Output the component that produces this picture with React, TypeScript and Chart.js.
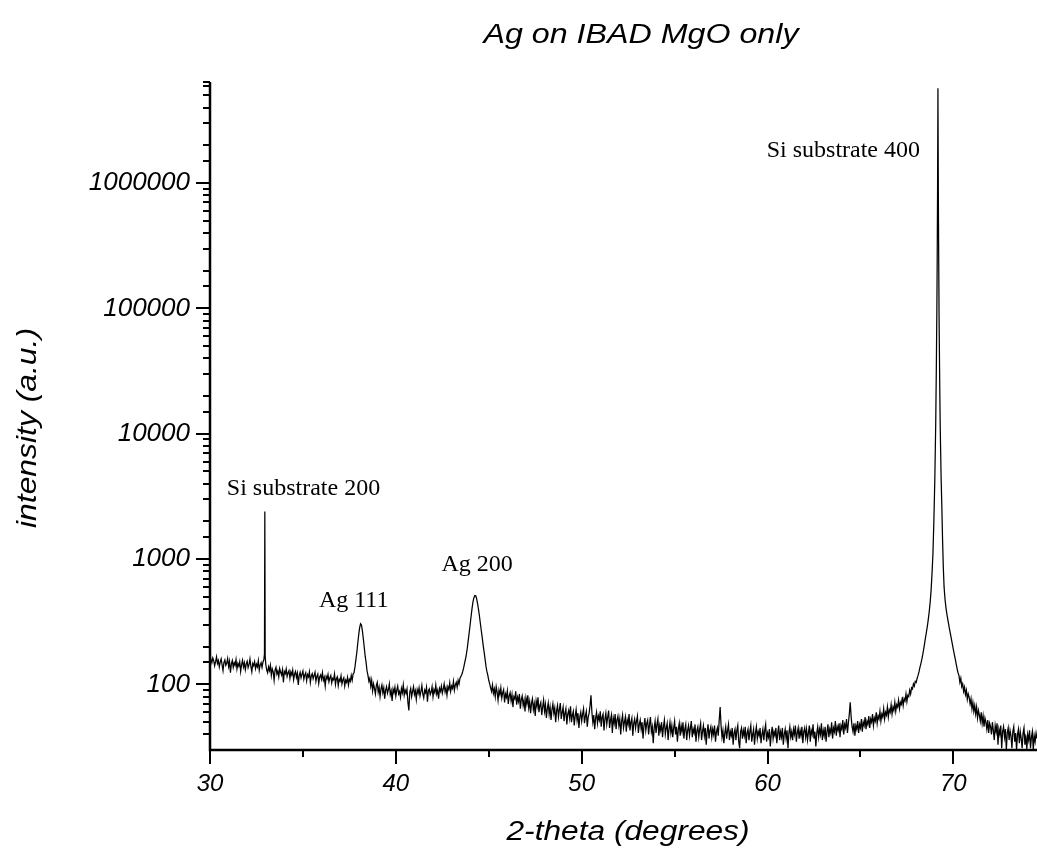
import React, { useEffect, useRef } from "react";
import { Chart, registerables } from "chart.js";

Chart.register(...registerables);

const chartTitle = "Ag on IBAD MgO only";
const xAxisTitle = "2-theta (degrees)";
const yAxisTitle = "intensity (a.u.)";

const xMin = 30;
const xMax = 74.5;
const yMin = 30;
const yMax = 6.4e6;
const xTickValues = [30, 35, 40, 45, 50, 55, 60, 65, 70];
const xLabelledTicks = [30, 40, 50, 60, 70];
const yLabelledTicks = [100, 1000, 10000, 100000, 1000000];

// [2-theta (deg), intensity (counts)]
const xrdScan: [number, number][] = [
  [30.00, 170], [30.05, 158], [30.10, 149], [30.15, 163], [30.20, 155], [30.25, 141], [30.30, 152], [30.35, 166], [30.40, 147], [30.45, 155],
  [30.50, 138], [30.55, 151], [30.60, 160], [30.65, 144], [30.70, 129], [30.75, 150], [30.80, 157], [30.85, 142], [30.90, 148], [30.95, 161],
  [31.00, 139], [31.05, 153], [31.10, 124], [31.15, 146], [31.20, 155], [31.25, 137], [31.30, 149], [31.35, 142], [31.40, 158], [31.45, 133],
  [31.50, 147], [31.55, 140], [31.60, 152], [31.65, 127], [31.70, 144], [31.75, 156], [31.80, 138], [31.85, 149], [31.90, 131], [31.95, 146],
  [32.00, 153], [32.05, 136], [32.10, 144], [32.15, 160], [32.20, 139], [32.25, 126], [32.30, 147], [32.35, 141], [32.40, 152], [32.45, 134],
  [32.50, 145], [32.55, 138], [32.60, 155], [32.65, 130], [32.70, 143], [32.75, 149], [32.80, 137], [32.85, 151], [32.90, 158],
  [32.93, 175], [32.95, 2400], [32.97, 168],
  [33.00, 145], [33.05, 131], [33.10, 124], [33.15, 138], [33.20, 129], [33.25, 142], [33.30, 118], [33.35, 133], [33.40, 126], [33.45, 108],
  [33.50, 130], [33.55, 137], [33.60, 121], [33.65, 128], [33.70, 115], [33.75, 134], [33.80, 125], [33.85, 119], [33.90, 131], [33.95, 104],
  [34.00, 127], [34.05, 122], [34.10, 133], [34.15, 116], [34.20, 124], [34.25, 129], [34.30, 112], [34.35, 126], [34.40, 119], [34.45, 130],
  [34.50, 109], [34.55, 121], [34.60, 127], [34.65, 114], [34.70, 123], [34.75, 99], [34.80, 118], [34.85, 125], [34.90, 113], [34.95, 121],
  [35.00, 128], [35.05, 110], [35.10, 119], [35.15, 124], [35.20, 107], [35.25, 120], [35.30, 115], [35.35, 126], [35.40, 104], [35.45, 117],
  [35.50, 122], [35.55, 111], [35.60, 118], [35.65, 125], [35.70, 106], [35.75, 116], [35.80, 121], [35.85, 102], [35.90, 115], [35.95, 119],
  [36.00, 110], [36.05, 124], [36.10, 108], [36.15, 114], [36.20, 97], [36.25, 116], [36.30, 111], [36.35, 120], [36.40, 105], [36.45, 113],
  [36.50, 118], [36.55, 103], [36.60, 112], [36.65, 109], [36.70, 121], [36.75, 100], [36.80, 111], [36.85, 115], [36.90, 98], [36.95, 110],
  [37.00, 106], [37.05, 117], [37.10, 101], [37.15, 109], [37.20, 113], [37.25, 97], [37.30, 108], [37.35, 104], [37.40, 114], [37.45, 99],
  [37.50, 110], [37.55, 106], [37.60, 118], [37.65, 108], [37.70, 121], [37.75, 124],
  [37.80, 138], [37.85, 158], [37.90, 180], [37.95, 212], [38.00, 248], [38.05, 283], [38.10, 305], [38.15, 298], [38.20, 268], [38.25, 232],
  [38.30, 198], [38.35, 168], [38.40, 150], [38.45, 128], [38.50, 118], [38.55, 106], [38.60, 112],
  [38.65, 97], [38.70, 108], [38.75, 89], [38.80, 101], [38.85, 93], [38.90, 84], [38.95, 98], [39.00, 104], [39.05, 87], [39.10, 95],
  [39.15, 80], [39.20, 92], [39.25, 99], [39.30, 86], [39.35, 94], [39.40, 77], [39.45, 90], [39.50, 96], [39.55, 85], [39.60, 91],
  [39.65, 101], [39.70, 83], [39.75, 89], [39.80, 74], [39.85, 92], [39.90, 86], [39.95, 95], [40.00, 81], [40.05, 90], [40.10, 97],
  [40.15, 84], [40.20, 88], [40.25, 79], [40.30, 93], [40.35, 86], [40.40, 99], [40.45, 82], [40.50, 90], [40.55, 85], [40.60, 92],
  [40.65, 72], [40.70, 62], [40.75, 87], [40.80, 93], [40.85, 80], [40.90, 88], [40.95, 96], [41.00, 83], [41.05, 89], [41.10, 76],
  [41.15, 91], [41.20, 85], [41.25, 94], [41.30, 81], [41.35, 88], [41.40, 98], [41.45, 84], [41.50, 78], [41.55, 90], [41.60, 86],
  [41.65, 95], [41.70, 73], [41.75, 89], [41.80, 92], [41.85, 83], [41.90, 87], [41.95, 96], [42.00, 80], [42.05, 91], [42.10, 86],
  [42.15, 99], [42.20, 84], [42.25, 90], [42.30, 77], [42.35, 93], [42.40, 88], [42.45, 97], [42.50, 85], [42.55, 92], [42.60, 101],
  [42.65, 87], [42.70, 94], [42.75, 82], [42.80, 96], [42.85, 91], [42.90, 103], [42.95, 88], [43.00, 97], [43.05, 93], [43.10, 106],
  [43.15, 90], [43.20, 99], [43.25, 104], [43.30, 95], [43.35, 108], [43.40, 101], [43.45, 112],
  [43.50, 116], [43.55, 120], [43.60, 127], [43.65, 136], [43.70, 148], [43.75, 160], [43.80, 176], [43.85, 198], [43.90, 228], [43.95, 262],
  [44.00, 302], [44.05, 350], [44.10, 405], [44.15, 455], [44.20, 492], [44.25, 512], [44.30, 510], [44.35, 482], [44.40, 440], [44.45, 395],
  [44.50, 350], [44.55, 305], [44.60, 268], [44.65, 235], [44.70, 205], [44.75, 182], [44.80, 160], [44.85, 140], [44.90, 127], [44.95, 118],
  [45.00, 108],
  [45.05, 101], [45.10, 94], [45.15, 88], [45.20, 99], [45.25, 85], [45.30, 92], [45.35, 80], [45.40, 96], [45.45, 87], [45.50, 75],
  [45.55, 90], [45.60, 83], [45.65, 94], [45.70, 78], [45.75, 86], [45.80, 91], [45.85, 72], [45.90, 84], [45.95, 79], [46.00, 89],
  [46.05, 70], [46.10, 81], [46.15, 86], [46.20, 74], [46.25, 83], [46.30, 66], [46.35, 80], [46.40, 77], [46.45, 88], [46.50, 69],
  [46.55, 79], [46.60, 73], [46.65, 84], [46.70, 64], [46.75, 76], [46.80, 81], [46.85, 68], [46.90, 75], [46.95, 61], [47.00, 78],
  [47.05, 70], [47.10, 82], [47.15, 65], [47.20, 73], [47.25, 59], [47.30, 71], [47.35, 77], [47.40, 63], [47.45, 70], [47.50, 56],
  [47.55, 74], [47.60, 67], [47.65, 79], [47.70, 60], [47.75, 68], [47.80, 72], [47.85, 57], [47.90, 66], [47.95, 75], [48.00, 61],
  [48.05, 69], [48.10, 54], [48.15, 64], [48.20, 71], [48.25, 58], [48.30, 66], [48.35, 52], [48.40, 63], [48.45, 70], [48.50, 59],
  [48.55, 65], [48.60, 50], [48.65, 62], [48.70, 68], [48.75, 55], [48.80, 63], [48.85, 71], [48.90, 53], [48.95, 60], [49.00, 66],
  [49.05, 51], [49.10, 59], [49.15, 64], [49.20, 48], [49.25, 58], [49.30, 62], [49.35, 54], [49.40, 67], [49.45, 50], [49.50, 57],
  [49.55, 61], [49.60, 47], [49.65, 56], [49.70, 63], [49.75, 52], [49.80, 59], [49.85, 45], [49.90, 55], [49.95, 60], [50.00, 51],
  [50.05, 58], [50.10, 64], [50.15, 49], [50.20, 56], [50.25, 61], [50.30, 46], [50.35, 55], [50.40, 59], [50.45, 68], [50.50, 82],
  [50.55, 60], [50.60, 50], [50.65, 57], [50.70, 44], [50.75, 54], [50.80, 60], [50.85, 49], [50.90, 56], [50.95, 52], [51.00, 61],
  [51.05, 46], [51.10, 55], [51.15, 58], [51.20, 43], [51.25, 53], [51.30, 59], [51.35, 48], [51.40, 55], [51.45, 62], [51.50, 45],
  [51.55, 52], [51.60, 57], [51.65, 41], [51.70, 54], [51.75, 49], [51.80, 58], [51.85, 44], [51.90, 52], [51.95, 56], [52.00, 47],
  [52.05, 53], [52.10, 40], [52.15, 51], [52.20, 57], [52.25, 45], [52.30, 50], [52.35, 55], [52.40, 42], [52.45, 52], [52.50, 48],
  [52.55, 58], [52.60, 43], [52.65, 50], [52.70, 54], [52.75, 39], [52.80, 49], [52.85, 53], [52.90, 45], [52.95, 51], [53.00, 56],
  [53.05, 41], [53.10, 48], [53.15, 52], [53.20, 44], [53.25, 50], [53.30, 37], [53.35, 47], [53.40, 54], [53.45, 43], [53.50, 49],
  [53.55, 52], [53.60, 40], [53.65, 48], [53.70, 55], [53.75, 42], [53.80, 46], [53.85, 34], [53.90, 45], [53.95, 51], [54.00, 41],
  [54.05, 48], [54.10, 53], [54.15, 39], [54.20, 47], [54.25, 43], [54.30, 50], [54.35, 38], [54.40, 46], [54.45, 52], [54.50, 40],
  [54.55, 45], [54.60, 49], [54.65, 36], [54.70, 44], [54.75, 50], [54.80, 41], [54.85, 47], [54.90, 38], [54.95, 45], [55.00, 51],
  [55.05, 40], [55.10, 46], [55.15, 35], [55.20, 44], [55.25, 49], [55.30, 39], [55.35, 47], [55.40, 42], [55.45, 50], [55.50, 37],
  [55.55, 44], [55.60, 48], [55.65, 36], [55.70, 43], [55.75, 47], [55.80, 39], [55.85, 45], [55.90, 51], [55.95, 38], [56.00, 44],
  [56.05, 41], [56.10, 48], [56.15, 35], [56.20, 43], [56.25, 46], [56.30, 38], [56.35, 44], [56.40, 49], [56.45, 36], [56.50, 42],
  [56.55, 47], [56.60, 39], [56.65, 45], [56.70, 33], [56.75, 42], [56.80, 48], [56.85, 37], [56.90, 43], [56.95, 46], [57.00, 38],
  [57.05, 44], [57.10, 40], [57.15, 47], [57.20, 35], [57.25, 42], [57.30, 45], [57.35, 39], [57.40, 52], [57.45, 66], [57.50, 47],
  [57.55, 38], [57.60, 43], [57.65, 34], [57.70, 41], [57.75, 46], [57.80, 37], [57.85, 43], [57.90, 48], [57.95, 36], [58.00, 42],
  [58.05, 39], [58.10, 45], [58.15, 33], [58.20, 41], [58.25, 44], [58.30, 36], [58.35, 43], [58.40, 47], [58.45, 35], [58.50, 31],
  [58.55, 42], [58.60, 45], [58.65, 37], [58.70, 43], [58.75, 39], [58.80, 46], [58.85, 34], [58.90, 41], [58.95, 44], [59.00, 36],
  [59.05, 42], [59.10, 47], [59.15, 35], [59.20, 40], [59.25, 44], [59.30, 33], [59.35, 41], [59.40, 46], [59.45, 37], [59.50, 42],
  [59.55, 39], [59.60, 45], [59.65, 34], [59.70, 40], [59.75, 44], [59.80, 36], [59.85, 43], [59.90, 48], [59.95, 35], [60.00, 41],
  [60.05, 38], [60.10, 44], [60.15, 32], [60.20, 40], [60.25, 46], [60.30, 37], [60.35, 42], [60.40, 39], [60.45, 45], [60.50, 34],
  [60.55, 41], [60.60, 47], [60.65, 36], [60.70, 42], [60.75, 38], [60.80, 45], [60.85, 33], [60.90, 40], [60.95, 44], [61.00, 37],
  [61.05, 43], [61.10, 31], [61.15, 41], [61.20, 46], [61.25, 38], [61.30, 42], [61.35, 36], [61.40, 44], [61.45, 40], [61.50, 47],
  [61.55, 35], [61.60, 41], [61.65, 45], [61.70, 37], [61.75, 43], [61.80, 39], [61.85, 46], [61.90, 34], [61.95, 42], [62.00, 45],
  [62.05, 38], [62.10, 44], [62.15, 36], [62.20, 41], [62.25, 47], [62.30, 35], [62.35, 43], [62.40, 40], [62.45, 48], [62.50, 37],
  [62.55, 42], [62.60, 32], [62.65, 41], [62.70, 46], [62.75, 38], [62.80, 44], [62.85, 40], [62.90, 49], [62.95, 36], [63.00, 43],
  [63.05, 39], [63.10, 46], [63.15, 35], [63.20, 42], [63.25, 48], [63.30, 38], [63.35, 44], [63.40, 41], [63.45, 50], [63.50, 37],
  [63.55, 45], [63.60, 42], [63.65, 51], [63.70, 39], [63.75, 46], [63.80, 43], [63.85, 49], [63.90, 38], [63.95, 47], [64.00, 44],
  [64.05, 52], [64.10, 40], [64.15, 48], [64.20, 45], [64.25, 53], [64.30, 41], [64.35, 49], [64.40, 58], [64.45, 72], [64.50, 55],
  [64.55, 46], [64.60, 42], [64.65, 49], [64.70, 39], [64.75, 47], [64.80, 44], [64.85, 51], [64.90, 41], [64.95, 48], [65.00, 45],
  [65.05, 53], [65.10, 42], [65.15, 50], [65.20, 47], [65.25, 55], [65.30, 44], [65.35, 51], [65.40, 48], [65.45, 56], [65.50, 45],
  [65.55, 53], [65.60, 50], [65.65, 58], [65.70, 47], [65.75, 54], [65.80, 51], [65.85, 60], [65.90, 49], [65.95, 56], [66.00, 53],
  [66.05, 61], [66.10, 51], [66.15, 58], [66.20, 55], [66.25, 64], [66.30, 53], [66.35, 60], [66.40, 57], [66.45, 66], [66.50, 55],
  [66.55, 63], [66.60, 60], [66.65, 69], [66.70, 58], [66.75, 66], [66.80, 62], [66.85, 72], [66.90, 61], [66.95, 69], [67.00, 66],
  [67.05, 75], [67.10, 64], [67.15, 72], [67.20, 69], [67.25, 79], [67.30, 68], [67.35, 77], [67.40, 74], [67.45, 84], [67.50, 73],
  [67.55, 82], [67.60, 80], [67.65, 90], [67.70, 84], [67.75, 94], [67.80, 92], [67.85, 101], [67.90, 97], [67.95, 106], [68.00, 104],
  [68.05, 112], [68.10, 118], [68.15, 126], [68.20, 137], [68.25, 146], [68.30, 158], [68.35, 172], [68.40, 190], [68.45, 212], [68.50, 236],
  [68.55, 262], [68.60, 292], [68.65, 330], [68.70, 380], [68.75, 450], [68.80, 560], [68.85, 760], [68.90, 1100], [68.95, 2000], [69.00, 4200],
  [69.05, 12000], [69.08, 30000], [69.11, 90000], [69.13, 250000], [69.15, 900000], [69.16, 2200000], [69.17, 5700000], [69.18, 2200000], [69.19, 900000], [69.21, 250000],
  [69.23, 90000], [69.26, 30000], [69.29, 12000], [69.34, 4500], [69.38, 2600], [69.42, 1400], [69.46, 850], [69.50, 600], [69.55, 480], [69.60, 410],
  [69.65, 365], [69.70, 330], [69.75, 300], [69.80, 272], [69.85, 250], [69.90, 228], [69.95, 208], [70.00, 190], [70.05, 174], [70.10, 160],
  [70.15, 146], [70.20, 134], [70.25, 124],
  [70.30, 118], [70.35, 104], [70.40, 112], [70.45, 96], [70.50, 101], [70.55, 88], [70.60, 95], [70.65, 83], [70.70, 90], [70.75, 76],
  [70.80, 84], [70.85, 79], [70.90, 70], [70.95, 77], [71.00, 64], [71.05, 72], [71.10, 61], [71.15, 68], [71.20, 58], [71.25, 66],
  [71.30, 54], [71.35, 62], [71.40, 57], [71.45, 51], [71.50, 60], [71.55, 49], [71.60, 56], [71.65, 46], [71.70, 54], [71.75, 50],
  [71.80, 44], [71.85, 52], [71.90, 41], [71.95, 49], [72.00, 46], [72.05, 40], [72.10, 50], [72.15, 43], [72.20, 36], [72.25, 47],
  [72.30, 42], [72.35, 49], [72.40, 33], [72.45, 44], [72.50, 40], [72.55, 47], [72.60, 31], [72.65, 42], [72.70, 46], [72.75, 38],
  [72.80, 44], [72.85, 30], [72.90, 41], [72.95, 45], [73.00, 36], [73.05, 43], [73.10, 39], [73.15, 31], [73.20, 42], [73.25, 46],
  [73.30, 35], [73.35, 41], [73.40, 30], [73.45, 40], [73.50, 44], [73.55, 34], [73.60, 42], [73.65, 37], [73.70, 31], [73.75, 41],
  [73.80, 45], [73.85, 33], [73.90, 39], [73.95, 30], [74.00, 40], [74.05, 36], [74.10, 43], [74.15, 31], [74.20, 38], [74.25, 42],
  [74.30, 30], [74.35, 39], [74.40, 35], [74.45, 41], [74.50, 37],
];

const peakLabels = ["Si substrate 200", "Ag 111", "Ag 200", "Si substrate 400"];
const peakLabelX = [35.03, 37.73, 44.37, 64.08];
const peakLabelY = [3220, 414, 802, 1.61e6];

const SANS = "'Liberation Sans', Arial, sans-serif";
const SERIF = "'Liberation Serif', 'Times New Roman', serif";

function drawStretched(
  ctx: CanvasRenderingContext2D,
  text: string,
  cx: number,
  baseline: number,
  font: string,
  width: number,
  rotated: boolean
) {
  ctx.save();
  ctx.translate(cx, baseline);
  if (rotated) ctx.rotate(-Math.PI / 2);
  ctx.font = font;
  const w = ctx.measureText(text).width;
  ctx.scale(width / w, 1);
  ctx.textAlign = "center";
  ctx.textBaseline = "alphabetic";
  ctx.fillText(text, 0, 0);
  ctx.restore();
}

const decorPlugin = {
  id: "xrdDecor",
  afterDatasetsDraw(chart: any) {
    const { ctx, chartArea } = chart;
    const xs = chart.scales.x;
    const ys = chart.scales.y;
    const { left, right, top, bottom } = chartArea;
    ctx.save();
    ctx.strokeStyle = "#000";
    ctx.fillStyle = "#000";
    ctx.lineCap = "butt";

    ctx.lineWidth = 2.5;
    ctx.beginPath();
    ctx.moveTo(left, top);
    ctx.lineTo(left, bottom);
    ctx.lineTo(right, bottom);
    ctx.stroke();

    ctx.lineWidth = 2;
    ys.ticks.forEach((t: any) => {
      const v = t.value;
      if (v <= yMin * 1.001) return;
      const l = Math.log10(v);
      const major = Math.abs(l - Math.round(l)) < 1e-6;
      const y = Math.round(ys.getPixelForValue(v));
      const len = major ? 14 : 7;
      ctx.beginPath();
      ctx.moveTo(left - len, y);
      ctx.lineTo(left, y);
      ctx.stroke();
    });
    xs.ticks.forEach((t: any) => {
      const v = t.value;
      const major = xLabelledTicks.includes(v);
      const x = Math.round(xs.getPixelForValue(v));
      const len = major ? 14 : 7;
      ctx.beginPath();
      ctx.moveTo(x, bottom);
      ctx.lineTo(x, bottom + len);
      ctx.stroke();
    });

    ctx.font = `24px ${SERIF}`;
    ctx.textAlign = "center";
    ctx.textBaseline = "alphabetic";
    peakLabels.forEach((txt, i) => {
      ctx.fillText(txt, xs.getPixelForValue(peakLabelX[i]), ys.getPixelForValue(peakLabelY[i]));
    });

    drawStretched(ctx, chartTitle, 641, 43, `italic 27px ${SANS}`, 315, false);
    drawStretched(ctx, xAxisTitle, 628, 840, `italic 27px ${SANS}`, 243, false);
    drawStretched(ctx, yAxisTitle, 36, 428, `italic 28px ${SANS}`, 200, true);

    ctx.restore();
  },
};

export default function App() {
  const canvasRef = useRef<HTMLCanvasElement | null>(null);

  useEffect(() => {
    document.body.style.margin = "0";
    const canvas = canvasRef.current;
    if (!canvas) return;
    const chart = new Chart(canvas, {
      type: "line",
      data: {
        datasets: [
          {
            data: xrdScan.map(([x, y]) => ({ x, y })),
            borderColor: "#000",
            borderWidth: 1.25,
            pointRadius: 0,
            tension: 0.0001,
            fill: false,
          },
        ],
      },
      options: {
        responsive: false,
        animation: false,
        devicePixelRatio: 1,
        layout: { padding: { top: 82, left: 0, right: 0, bottom: 0 } },
        plugins: {
          legend: { display: false },
          tooltip: { enabled: false },
          title: { display: false },
        },
        scales: {
          x: {
            type: "linear",
            min: xMin,
            max: xMax,
            grid: { display: false, drawTicks: false },
            border: { display: false },
            afterBuildTicks: (s: any) => {
              s.ticks = xTickValues.map((v) => ({ value: v }));
            },
            ticks: {
              autoSkip: false,
              maxRotation: 0,
              padding: 20,
              color: "#000",
              font: { family: SANS, size: 24, style: "italic" },
              callback: (v: any) => (xLabelledTicks.includes(Number(v)) ? String(v) : ""),
            },
            afterFit: (s: any) => {
              s.height = 103;
            },
          },
          y: {
            type: "logarithmic",
            min: yMin,
            max: yMax,
            grid: { display: false, drawTicks: false },
            border: { display: false },
            ticks: {
              autoSkip: false,
              padding: 20,
              color: "#000",
              font: { family: SANS, size: 26, style: "italic" },
              callback: (v: any) => (yLabelledTicks.includes(Number(v)) ? String(v) : ""),
            },
            afterFit: (s: any) => {
              s.width = 210;
            },
          },
        },
      },
      plugins: [decorPlugin],
    });
    return () => chart.destroy();
  }, []);

  return (
    <div style={{ width: 1037, height: 853, background: "#fff" }}>
      <canvas ref={canvasRef} width={1037} height={853} style={{ display: "block" }} />
    </div>
  );
}
